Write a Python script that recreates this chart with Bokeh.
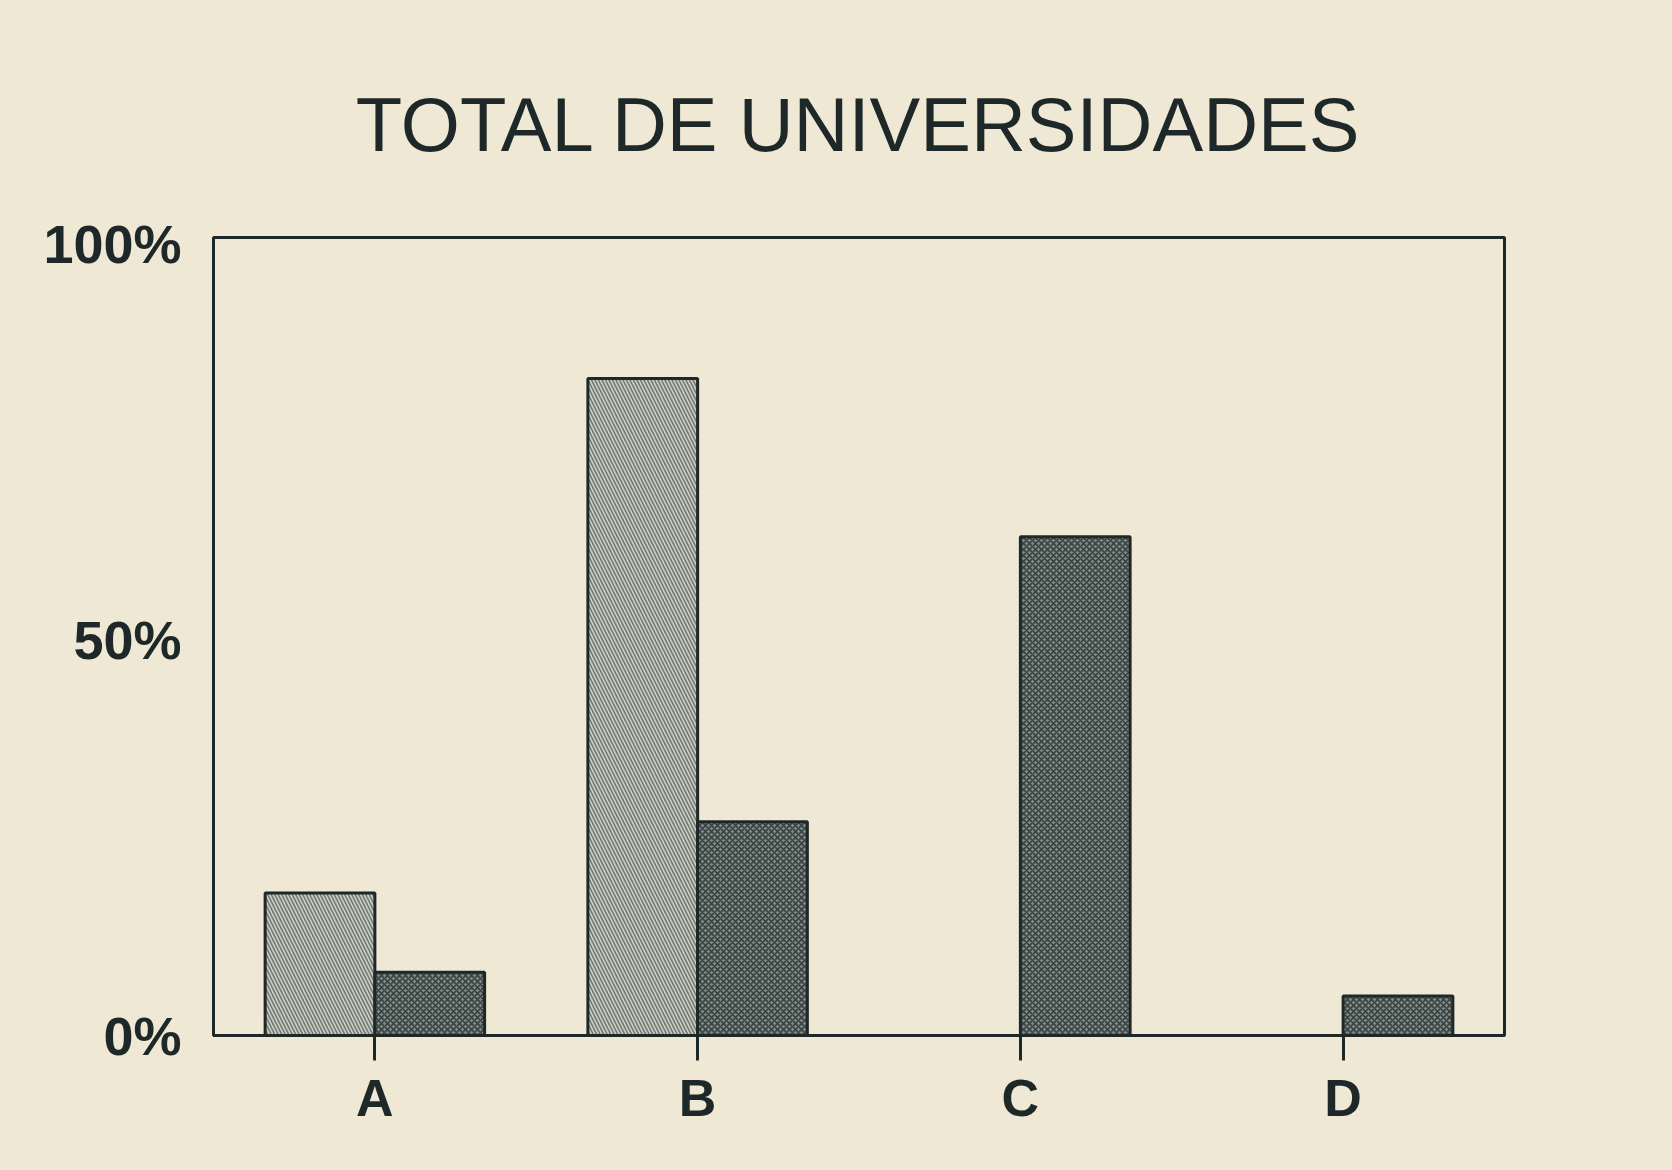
from bokeh.plotting import figure
from bokeh.models import FixedTicker, Range1d, ColumnDataSource
from bokeh.embed import file_html
from bokeh.resources import INLINE

# ---- data ----
title_text = "TOTAL DE UNIVERSIDADES"
categories = ["A", "B", "C", "D"]
series_light = [18, 83, 0, 0]     # hatched bars (left of tick)
series_dark = [8, 27, 63, 5]      # stippled bars (right of tick)
y_ticks = [0, 50, 100]
y_tick_labels = ["0%", "50%", "100%"]

BG = "#eee8d4"
INK = "#1f2828"

p = figure(width=1656, height=1154, output_backend="svg", toolbar_location=None,
           x_range=Range1d(0.5, 4.5), y_range=Range1d(0, 100.8),
           min_border_left=213, min_border_right=152, min_border_top=237,
           min_border_bottom=119)
p.background_fill_color = BG
p.border_fill_color = BG
p.outline_line_color = INK
p.outline_line_width = 3
p.xgrid.visible = False
p.ygrid.visible = False

xs = list(range(1, len(categories) + 1))
bw = 0.34
src = ColumnDataSource(dict(
    xl=[x - bw / 2 for x in xs], xr=[x + bw / 2 for x in xs],
    light=series_light, dark=series_dark))

p.vbar(x="xl", top="light", width=bw, bottom=0, source=src,
       fill_color="#cbcdc0", line_color=INK, line_width=3,
       hatch_pattern="\\", hatch_color="#4f5a5a", hatch_alpha=0.75,
       hatch_scale=7, hatch_weight=1.5)
p.vbar(x="xr", top="dark", width=bw, bottom=0, source=src,
       fill_color="#7d8783", line_color=INK, line_width=3,
       hatch_pattern="x", hatch_color="#262f2e", hatch_alpha=0.85,
       hatch_scale=6, hatch_weight=1.5)

p.title.text = title_text
p.title.align = "center"
p.title.text_font = "Liberation Sans"
p.title.text_font_size = "76px"
p.title.text_font_style = "normal"
p.title.text_color = INK
p.title.standoff = 142

# x axis
p.xaxis.ticker = FixedTicker(ticks=xs)
p.xaxis.major_label_overrides = {x: c for x, c in zip(xs, categories)}
p.xaxis.axis_line_color = INK
p.xaxis.axis_line_width = 3
p.xaxis.major_tick_line_color = INK
p.xaxis.major_tick_line_width = 3
p.xaxis.major_tick_out = 25
p.xaxis.major_tick_in = 0
p.xaxis.minor_tick_line_color = None
p.xaxis.major_label_standoff = 8
p.xaxis.major_label_text_font = "Liberation Sans"
p.xaxis.major_label_text_font_size = "52px"
p.xaxis.major_label_text_font_style = "bold"
p.xaxis.major_label_text_color = INK

# y axis
p.yaxis.ticker = FixedTicker(ticks=y_ticks)
p.yaxis.major_label_overrides = {t: l for t, l in zip(y_ticks, y_tick_labels)}
p.yaxis.axis_line_color = INK
p.yaxis.axis_line_width = 3
p.yaxis.major_tick_line_color = None
p.yaxis.minor_tick_line_color = None
p.yaxis.major_label_standoff = 26
p.yaxis.major_label_text_font = "Liberation Sans"
p.yaxis.major_label_text_font_size = "54px"
p.yaxis.major_label_text_font_style = "bold"
p.yaxis.major_label_text_color = INK

html = file_html(p, INLINE)
html = html.replace("<body>", '<body style="background:%s">' % BG, 1)
html = html.replace("<html", '<html style="background:%s"' % BG, 1)
open("out.html", "w").write(html)
